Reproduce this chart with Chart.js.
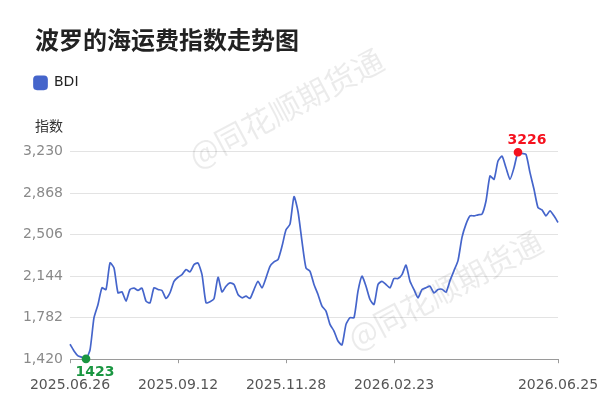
<!DOCTYPE html>
<html>
<head>
<meta charset="utf-8">
<script src="https://cdn.jsdelivr.net/npm/chart.js@4.4.1/dist/chart.umd.min.js"></script>
<style>
  html, body { margin: 0; padding: 0; background: #fff; }
  #wrap { width: 600px; height: 408px; position: relative; }
</style>
</head>
<body>
<div id="wrap"><canvas id="bdi-chart"></canvas></div>
<script>
'use strict';

// BDI index, one value per sampled trading day
const bdiValues = [
    1550, 1492, 1449, 1437, 1423, 1500, 1782, 1898, 2043, 2028,
    2260, 2216, 1999, 2008, 1927, 2028, 2040, 2020, 2040, 1927,
    1912, 2043, 2028, 2020, 1950, 2000, 2100, 2135, 2158, 2202,
    2182, 2245, 2260, 2158, 1912, 1921, 1947, 2135, 2008, 2057,
    2086, 2072, 1985, 1956, 1970, 1950, 2028, 2100, 2043, 2130,
    2231, 2269, 2289, 2405, 2549, 2599, 2839, 2709, 2448, 2216,
    2187, 2072, 1985, 1883, 1840, 1724, 1666, 1579, 1545, 1724,
    1782, 1782, 2014, 2144, 2057, 1941, 1898, 2072, 2100, 2072,
    2043, 2124, 2124, 2158, 2240, 2100, 2028, 1956, 2028, 2043,
    2057, 1999, 2028, 2030, 2005, 2106, 2193, 2280, 2483, 2599,
    2671, 2671, 2680, 2686, 2801, 3019, 2990, 3149, 3192, 3091,
    2990, 3091, 3226, 3215, 3207, 3048, 2903, 2743, 2723, 2671,
    2715, 2671, 2613
];
const tickIndexes = [0, 27, 54, 81, 122];
const tickLabels = ['2025.06.26', '2025.09.12', '2025.11.28', '2026.02.23', '2026.06.25'];
const yTicks = [1420, 1782, 2144, 2506, 2868, 3230];

const minIdx = bdiValues.indexOf(Math.min(...bdiValues));
const maxIdx = bdiValues.indexOf(Math.max(...bdiValues));
const lineColor = '#4565cb';

const extrasPlugin = {
    id: 'extras',
    beforeInit(chart) {
        const origFit = chart.legend.fit;
        chart.legend.fit = function () {
            origFit.bind(chart.legend)();
            this.height += 52;
        };
    },
    afterLayout(chart) {
        // title and legend start at x=35 while the y labels reach further left
        chart.titleBlock.left = 35;
        chart.legend.left = 28;
    },
    beforeDatasetsDraw(chart) {
        const ctx = chart.ctx;
        ctx.save();
        ctx.fillStyle = 'rgba(0,0,0,0.08)';
        ctx.font = '31px "Noto Sans CJK SC"';
        ctx.textAlign = 'center';
        ctx.textBaseline = 'middle';
        [[286, 108], [445, 290]].forEach(([x, y]) => {
            ctx.save();
            ctx.translate(x, y);
            ctx.rotate(-28 * Math.PI / 180);
            ctx.fillText('@同花顺期货通', 0, 0);
            ctx.restore();
        });
        ctx.restore();
    },
    afterDraw(chart) {
        const ctx = chart.ctx;
        const xs = chart.scales.x;
        const ys = chart.scales.y;
        ctx.save();
        ctx.fillStyle = '#333';
        ctx.font = '14px "Noto Sans CJK SC"';
        ctx.textAlign = 'left';
        ctx.textBaseline = 'middle';
        ctx.fillText('指数', 35, chart.chartArea.top - 26);

        ctx.font = 'bold 14px "DejaVu Sans"';
        ctx.textAlign = 'center';
        ctx.fillStyle = '#1a9641';
        ctx.fillText(String(bdiValues[minIdx]), xs.getPixelForValue(minIdx) + 9, ys.getPixelForValue(bdiValues[minIdx]) + 14);
        ctx.fillStyle = '#f5121f';
        ctx.fillText(String(bdiValues[maxIdx]), xs.getPixelForValue(maxIdx) + 9, ys.getPixelForValue(bdiValues[maxIdx]) - 12);
        ctx.restore();
    }
};

new Chart(document.getElementById('bdi-chart'), {
    type: 'line',
    data: {
        labels: bdiValues.map((v, i) => i),
        datasets: [{
            label: 'BDI',
            data: bdiValues,
            borderColor: lineColor,
            backgroundColor: lineColor,
            borderWidth: 1.7,
            tension: 0.2,
            clip: false,
            pointRadius: (c) => (c.dataIndex === minIdx || c.dataIndex === maxIdx) ? 3.5 : 0,
            pointBackgroundColor: (c) => c.dataIndex === minIdx ? '#1a9641' : '#f5121f',
            pointBorderColor: (c) => c.dataIndex === minIdx ? '#1a9641' : '#f5121f',
            pointHoverRadius: 0
        }]
    },
    options: {
        responsive: true,
        maintainAspectRatio: false,
        animation: false,
        layout: { padding: { left: 0, right: 42, top: 0, bottom: 0 } },
        plugins: {
            title: {
                display: true,
                text: '波罗的海运费指数走势图',
                align: 'start',
                color: '#222',
                font: { family: '"Noto Sans CJK SC"', size: 24, weight: 'bold' },
                padding: { top: 25, bottom: 16 }
            },
            legend: {
                display: true,
                align: 'start',
                labels: {
                    boxWidth: 13,
                    boxHeight: 13,
                    useBorderRadius: true,
                    borderRadius: 3,
                    color: '#222',
                    font: { family: '"DejaVu Sans"', size: 14 },
                    padding: 6
                }
            },
            tooltip: { enabled: false }
        },
        scales: {
            x: {
                type: 'category',
                afterFit: (scale) => { scale.paddingRight = 0; },
                border: { display: true, color: '#9a9a9a' },
                grid: { display: true, drawOnChartArea: false, tickLength: 4, color: '#9a9a9a' },
                ticks: {
                    autoSkip: false,
                    maxRotation: 0,
                    color: '#555',
                    padding: 14,
                    font: { family: '"DejaVu Sans"', size: 14 },
                    callback: (value) => {
                        const k = tickIndexes.indexOf(value);
                        return k >= 0 ? tickLabels[k] : null;
                    }
                }
            },
            y: {
                min: yTicks[0],
                max: yTicks[yTicks.length - 1],
                afterBuildTicks: (scale) => { scale.ticks = yTicks.map(v => ({ value: v })); },
                afterFit: (scale) => { scale.width = 70; },
                border: { display: false },
                grid: { color: '#e3e3e3', drawTicks: false },
                ticks: {
                    color: '#8a8a8a',
                    padding: 7,
                    font: { family: '"DejaVu Sans"', size: 14 }
                }
            }
        }
    },
    plugins: [extrasPlugin]
});
</script>
</body>
</html>
